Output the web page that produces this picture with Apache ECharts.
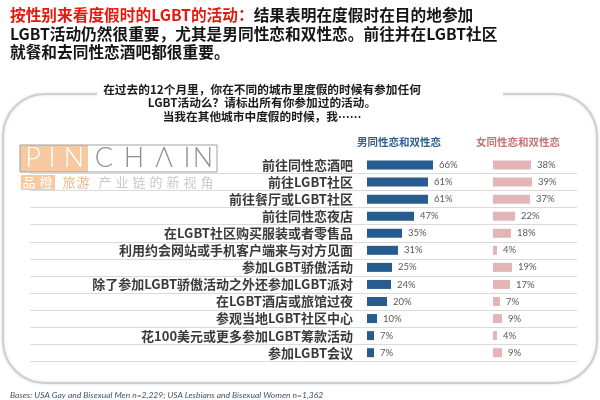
<!DOCTYPE html>
<html lang="zh" style="height: 100%">
  <head>
    <meta charset="utf-8" />
  </head>
  <body style="height: 100%; margin: 0; background: #fff">
    <div id="container" style="width: 600px; height: 400px"></div>

    <script
      type="text/javascript"
      src="https://cdn.jsdelivr.net/npm/echarts@6/dist/echarts.min.js"
    ></script>

    <script type="text/javascript">
      var categories = [
        "前往同性恋酒吧",
        "前往LGBT社区",
        "前往餐厅或LGBT社区",
        "前往同性恋夜店",
        "在LGBT社区购买服装或者零售品",
        "利用约会网站或手机客户端来与对方见面",
        "参加LGBT骄傲活动",
        "除了参加LGBT骄傲活动之外还参加LGBT派对",
        "在LGBT酒店或旅馆过夜",
        "参观当地LGBT社区中心",
        "花100美元或更多参加LGBT筹款活动",
        "参加LGBT会议",
      ];
      var menValues = [66, 61, 61, 47, 35, 31, 25, 24, 20, 10, 7, 7];
      var womenValues = [38, 39, 37, 22, 18, 4, 19, 17, 7, 9, 4, 9];
      var seriesNames = ["男同性恋和双性恋", "女同性恋和双性恋"];

      var CJK = '"Noto Sans CJK SC", sans-serif';
      var PEACH = "#f6c9a1";

      var dom = document.getElementById("container");
      var myChart = echarts.init(dom, null, { renderer: "canvas" });

      // logo watermark pieces
      var logo = [];
      var bigLetters = "PINCHAIN".split("");
      var bigX = [33, 52, 74, 104, 134, 164, 187, 203];
      bigLetters.forEach(function (ch, i) {
        logo.push({
          type: "text",
          x: bigX[i],
          y: 158.5,
          z: 5,
          style: {
            text: ch === "A" ? "Λ" : ch,
            align: "center",
            verticalAlign: "middle",
            fontFamily: "Lato",
            fontWeight: 300,
            fontSize: 27,
            fill: i < 3 ? "#ffffff" : "#8f8f8f",
          },
        });
      });
      var smallChars = "品橙旅游产业链的新视角".split("");
      smallChars.forEach(function (ch, i) {
        var x = i < 2 ? 29 + i * 17 : i < 4 ? 69 + (i - 2) * 14 : 105 + (i - 4) * 17;
        logo.push({
          type: "text",
          x: x,
          y: 182,
          z: 5,
          style: {
            text: ch,
            align: "center",
            verticalAlign: "middle",
            fontFamily: CJK,
            fontSize: 13,
            fill: i < 2 ? "#ffffff" : i < 4 ? "#f0b98c" : "#c9c9c9",
          },
        });
      });

      var option = {
        animation: false,
        graphic: [
          {
            type: "rect",
            z: 0,
            shape: { x: 3, y: 94, width: 594, height: 289, r: 42 },
            style: {
              fill: "none",
              stroke: "#cfcfcf",
              lineWidth: 2,
              shadowBlur: 3,
              shadowColor: "rgba(0,0,0,0.15)",
            },
          },
          {
            type: "rect",
            z: 1,
            shape: { x: 97, y: 86, width: 406, height: 14 },
            style: { fill: "#ffffff" },
          },
          {
            type: "text",
            x: 10,
            y: 6,
            z: 5,
            style: {
              text:
                "{r|按性别来看度假时的LGBT的活动：}{k|结果表明在度假时在目的地参加}\n" +
                "{k|LGBT活动仍然很重要，尤其是男同性恋和双性恋。前往并在LGBT社区}\n" +
                "{k|就餐和去同性恋酒吧都很重要。}",
              rich: {
                r: {
                  fill: "#e8180e",
                  fontFamily: CJK,
                  fontWeight: "bold",
                  fontSize: 15.7,
                  lineHeight: 18.5,
                },
                k: {
                  fill: "#151515",
                  fontFamily: CJK,
                  fontWeight: "bold",
                  fontSize: 15.7,
                  lineHeight: 18.5,
                },
              },
            },
          },
          {
            type: "text",
            x: 262,
            y: 83,
            z: 5,
            style: {
              text:
                "在过去的12个月里，你在不同的城市里度假的时候有参加任何\nLGBT活动么？请标出所有你参加过的活动。\n当我在其他城市中度假的时候，我……",
              align: "center",
              fontFamily: CJK,
              fontWeight: "bold",
              fontSize: 11.7,
              lineHeight: 13.3,
              fill: "#1a1a1a",
            },
          },
          {
            type: "rect",
            z: 3,
            shape: { x: 20, y: 145, width: 68, height: 27 },
            style: { fill: PEACH },
          },
          {
            type: "rect",
            z: 3,
            shape: { x: 20, y: 145, width: 197, height: 27 },
            style: { fill: "none", stroke: "#a0a0a0", lineWidth: 1 },
          },
          {
            type: "rect",
            z: 3,
            shape: { x: 21, y: 175, width: 34, height: 15 },
            style: { fill: PEACH },
          },
          {
            type: "text",
            x: 399,
            y: 142,
            z: 5,
            style: {
              text: seriesNames[0],
              align: "center",
              verticalAlign: "middle",
              fontFamily: CJK,
              fontWeight: "bold",
              fontSize: 10.5,
              fill: "#2e5f8f",
            },
          },
          {
            type: "text",
            x: 518,
            y: 142,
            z: 5,
            style: {
              text: seriesNames[1],
              align: "center",
              verticalAlign: "middle",
              fontFamily: CJK,
              fontWeight: "bold",
              fontSize: 10.5,
              fill: "#c07574",
            },
          },
          {
            type: "text",
            x: 10,
            y: 395,
            z: 5,
            style: {
              text: "Bases: USA Gay and Bisexual Men n=2,229; USA Lesbians and Bisexual Women n=1,362",
              verticalAlign: "middle",
              fontFamily: "Lato",
              fontStyle: "italic",
              fontSize: 8.5,
              fill: "#44546a",
            },
          },
        ].concat(logo),
        grid: [
          { left: 367, top: 156.5, width: 100, height: 204.7 },
          { left: 493, top: 156.5, width: 100, height: 204.7 },
          { left: 30, top: 156.5, width: 547, height: 204.7 },
        ],
        xAxis: [
          { type: "value", gridIndex: 0, min: 0, max: 100, show: false },
          { type: "value", gridIndex: 1, min: 0, max: 100, show: false },
          { type: "value", gridIndex: 2, min: 0, max: 100, show: false },
        ],
        yAxis: [
          {
            type: "category",
            gridIndex: 0,
            inverse: true,
            data: categories,
            axisLine: { show: false },
            axisTick: { show: false },
            splitLine: { show: false },
            axisLabel: {
              interval: 0,
              margin: 14,
              fontFamily: CJK,
              fontWeight: "bold",
              fontSize: 13,
              color: "#3a3a3a",
            },
          },
          {
            type: "category",
            gridIndex: 1,
            inverse: true,
            data: categories,
            axisLine: { show: false },
            axisTick: { show: false },
            axisLabel: { show: false },
            splitLine: { show: false },
          },
          {
            type: "category",
            gridIndex: 2,
            inverse: true,
            data: categories,
            axisLine: { show: false },
            axisTick: { show: false, interval: 0 },
            axisLabel: { show: false },
            splitLine: {
              show: true,
              interval: 0,
              showMinLine: false,
              lineStyle: { color: "#dadada", width: 1 },
            },
          },
        ],
        series: [
          {
            name: seriesNames[0],
            type: "bar",
            xAxisIndex: 0,
            yAxisIndex: 0,
            data: menValues,
            barWidth: 9,
            itemStyle: { color: "#275c8e" },
            label: {
              show: true,
              position: "right",
              distance: 6,
              formatter: "{c}%",
              fontFamily: "Lato",
              fontSize: 9.5,
              color: "#595959",
            },
          },
          {
            name: seriesNames[1],
            type: "bar",
            xAxisIndex: 1,
            yAxisIndex: 1,
            data: womenValues,
            barWidth: 9,
            itemStyle: { color: "#e3b6b6" },
            label: {
              show: true,
              position: "right",
              distance: 6,
              formatter: "{c}%",
              fontFamily: "Lato",
              fontSize: 9.5,
              color: "#595959",
            },
          },
        ],
      };

      myChart.setOption(option);
      window.addEventListener("resize", myChart.resize);
    </script>
  </body>
</html>
